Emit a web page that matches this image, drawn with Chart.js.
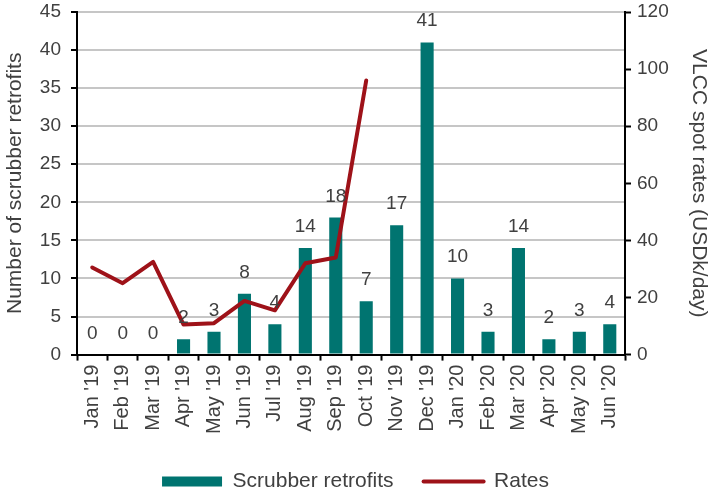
<!DOCTYPE html>
<html>
<head>
<meta charset="utf-8">
<script src="https://cdn.jsdelivr.net/npm/chart.js@4"></script>
<style>
  html, body { margin: 0; padding: 0; background: #fff; }
  #wrap { width: 711px; height: 492px; }
</style>
</head>
<body>
<div id="wrap"><canvas id="chart" width="711" height="492"></canvas></div>
<script>
'use strict';

// ---------------------------------------------------------------------------
// Data
// ---------------------------------------------------------------------------

const months = [
  "Jan '19", "Feb '19", "Mar '19", "Apr '19", "May '19", "Jun '19",
  "Jul '19", "Aug '19", "Sep '19", "Oct '19", "Nov '19", "Dec '19",
  "Jan '20", "Feb '20", "Mar '20", "Apr '20", "May '20", "Jun '20",
];

const retrofits = [0, 0, 0, 2, 3, 8, 4, 14, 18, 7, 17, 41, 10, 3, 14, 2, 3, 4];

// VLCC spot rates only run to Oct '19
const rates = [30.5, 25, 32.5, 10.5, 11, 18.8, 15.5, 32, 34, 96,
               null, null, null, null, null, null, null, null];

const TEAL = '#007470';
const RED  = '#9e1219';
const FAMILY = "'Liberation Sans', Arial, sans-serif";
const FONT   = { family: FAMILY, size: 19 };
const XFONT  = { family: FAMILY, size: 20 };
const BIG    = { family: FAMILY, size: 21 };

// Draws the value above each bar (like Excel's "outside end" labels)
const barLabels = {
  id: 'barLabels',
  afterDatasetsDraw(chart) {
    const meta = chart.getDatasetMeta(0);
    const ctx  = chart.ctx;
    ctx.save();
    ctx.font = `${FONT.size}px ${FAMILY}`;
    ctx.fillStyle = '#404040';
    ctx.textAlign = 'center';
    ctx.textBaseline = 'alphabetic';
    meta.data.forEach((bar, i) => {
      ctx.fillText(String(retrofits[i]), bar.x, bar.y - 16);
    });
    ctx.restore();
  },
};

// pin the axis boxes so the plot area lands where the reference has it
const fixWidth = w => scale => {
  scale.width = w;
  scale.paddingTop = 0;
  scale.paddingBottom = 0;
};

new Chart(document.getElementById('chart'), {
  type: 'bar',
  data: {
    labels: months,
    datasets: [
      {
        label: 'Scrubber retrofits',
        data: retrofits,
        backgroundColor: TEAL,
        borderWidth: 0,
        barPercentage: 0.43,
        categoryPercentage: 1,
        yAxisID: 'y',
        pointStyle: 'rect',
        order: 2,
      },
      {
        label: 'Rates',
        type: 'line',
        data: rates,
        borderColor: RED,
        backgroundColor: RED,
        borderWidth: 4,
        pointRadius: 0,
        borderCapStyle: 'round',
        borderJoinStyle: 'round',
        tension: 0,
        fill: false,
        spanGaps: false,
        yAxisID: 'y2',
        pointStyle: 'line',
        order: 1,
      },
    ],
  },
  options: {
    responsive: false,
    animation: false,
    layout: { padding: { top: 12, left: 0, right: 0, bottom: -10 } },
    plugins: {
      title:   { display: false },
      tooltip: { enabled: false },
      legend: {
        position: 'bottom',
        labels: {
          font: BIG,
          color: '#404040',
          usePointStyle: true,
          pointStyleWidth: 60,
          boxHeight: 10,
          padding: 30,
          generateLabels(chart) {
            return chart.data.datasets.map((ds, i) => ({
              text: ds.label,
              datasetIndex: i,
              fillStyle: ds.backgroundColor,
              strokeStyle: ds.borderColor || ds.backgroundColor,
              lineWidth: i === 0 ? 0 : 4,
              lineCap: 'round',
              pointStyle: ds.pointStyle,
              fontColor: '#404040',
              hidden: false,
            }));
          },
        },
      },
    },
    scales: {
      x: {
        offset: true,
        afterFit: scale => { scale.height += 3; },
        grid: {
          offset: true,
          drawOnChartArea: false,
          drawTicks: true,
          tickLength: 6,
          tickWidth: 2,
          tickColor: '#000',
        },
        border: { display: true, color: '#000', width: 2 },
        ticks: {
          font: XFONT,
          color: '#404040',
          maxRotation: 90,
          minRotation: 90,
          autoSkip: false,
          padding: 4,
        },
      },
      y: {
        position: 'left',
        min: 0,
        max: 45,
        afterFit: fixWidth(77),
        ticks: { stepSize: 5, font: FONT, color: '#404040', padding: 10 },
        grid: {
          color: '#c6c6c6',
          lineWidth: 2,
          tickLength: 6,
          tickWidth: 2,
          tickColor: '#000',
        },
        border: { display: true, color: '#000', width: 2 },
        title: {
          display: true,
          text: 'Number of scrubber retrofits',
          font: BIG,
          color: '#404040',
          padding: { top: 3, bottom: 0 },
        },
      },
      y2: {
        position: 'right',
        min: 0,
        max: 120,
        afterFit: fixWidth(86),
        ticks: { stepSize: 20, font: FONT, color: '#404040', padding: 6 },
        grid: {
          drawOnChartArea: false,
          tickLength: 6,
          tickWidth: 2,
          tickColor: '#000',
        },
        border: { display: true, color: '#000', width: 2 },
        title: {
          display: true,
          text: 'VLCC spot rates (USDk/day)',
          font: BIG,
          color: '#404040',
          padding: { top: 0, bottom: 0 },
        },
      },
    },
  },
  plugins: [barLabels],
});
</script>
</body>
</html>
